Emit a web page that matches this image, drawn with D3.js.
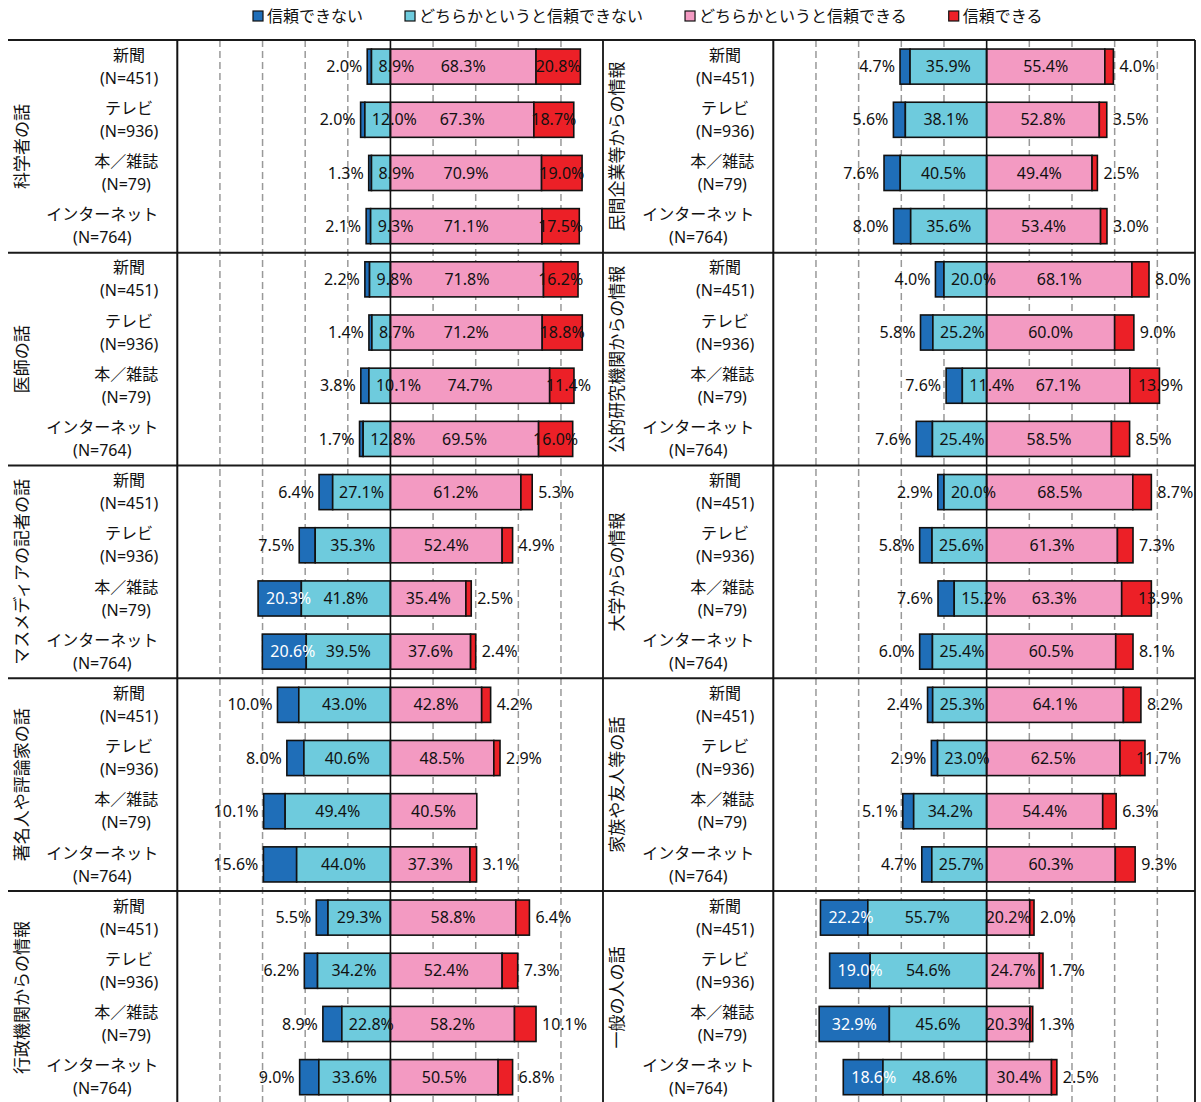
<!DOCTYPE html>
<html><head><meta charset="utf-8">
<script src="https://cdn.jsdelivr.net/npm/d3@7"></script>
<style>
body{margin:0;background:#fff}
svg{display:block}
text{font-family:"Noto Sans","Noto Sans CJK JP",sans-serif;fill:#111}
</style>
</head><body>
<svg id="c" width="1201" height="1102"></svg>
<script>
// ---------- data ----------
const seriesNames = ["信頼できない","どちらかというと信頼できない","どちらかというと信頼できる","信頼できる"];
const seriesColors = ["#1f6eb8","#6ecbdd","#f39ac2","#ec2027"];
const groupNames = ["科学者の話","医師の話","マスメディアの記者の話","著名人や評論家の話","行政機関からの情報",
                    "民間企業等からの情報","公的研究機関からの情報","大学からの情報","家族や友人等の話","一般の人の話"];
const mediaNames = ["新聞","テレビ","本／雑誌","インターネット"];
const sampleSizes = [451,936,79,764];
const notTrust = [
  [2.0,2.0,1.3,2.1],[2.2,1.4,3.8,1.7],[6.4,7.5,20.3,20.6],[10.0,8.0,10.1,15.6],[5.5,6.2,8.9,9.0],
  [4.7,5.6,7.6,8.0],[4.0,5.8,7.6,7.6],[2.9,5.8,7.6,6.0],[2.4,2.9,5.1,4.7],[22.2,19.0,32.9,18.6]];
const ratherNot = [
  [8.9,12.0,8.9,9.3],[9.8,8.7,10.1,12.8],[27.1,35.3,41.8,39.5],[43.0,40.6,49.4,44.0],[29.3,34.2,22.8,33.6],
  [35.9,38.1,40.5,35.6],[20.0,25.2,11.4,25.4],[20.0,25.6,15.2,25.4],[25.3,23.0,34.2,25.7],[55.7,54.6,45.6,48.6]];
const ratherTrust = [
  [68.3,67.3,70.9,71.1],[71.8,71.2,74.7,69.5],[61.2,52.4,35.4,37.6],[42.8,48.5,40.5,37.3],[58.8,52.4,58.2,50.5],
  [55.4,52.8,49.4,53.4],[68.1,60.0,67.1,58.5],[68.5,61.3,63.3,60.5],[64.1,62.5,54.4,60.3],[20.2,24.7,20.3,30.4]];
const trust = [
  [20.8,18.7,19.0,17.5],[16.2,18.8,11.4,16.0],[5.3,4.9,2.5,2.4],[4.2,2.9,0,3.1],[6.4,7.3,10.1,6.8],
  [4.0,3.5,2.5,3.0],[8.0,9.0,13.9,8.5],[8.7,7.3,13.9,8.1],[8.2,11.7,6.3,9.3],[2.0,1.7,1.3,2.5]];
const xTicks = [-100,-80,-60,-40,-20,0,20,40,60,80,100];

// ---------- layout ----------
const W = 1201, H = 1102;
const top0 = 40, rowH = 212.75;
const cols = [
  {left:8,   right:603,  plotL:177.3, plotR:603.6},
  {left:603, right:1195, plotL:773.3, plotR:1200}
];
const fmt = v => v.toFixed(1) + "%";

const svg = d3.select("#c");
const gGrid = svg.append("g");
const gBars = svg.append("g");
const gLines = svg.append("g");
const gText = svg.append("g");

cols.forEach(c => {
  c.x = d3.scaleLinear().domain([-100,100]).range([c.plotL, c.plotR]);
  gGrid.selectAll(null)
    .data(xTicks.filter(t => t !== 0 && Math.abs(t) !== 100))
    .join("line")
    .attr("x1", d => c.x(d)).attr("x2", d => c.x(d))
    .attr("y1", top0).attr("y2", H)
    .attr("stroke", "#999").attr("stroke-width", 1.5).attr("stroke-dasharray", "7,4");
});

function measure(sel){ return sel.node().getComputedTextLength(); }

groupNames.forEach((gname, g) => {
  const ci = Math.floor(g / 5), r = g % 5;
  const c = cols[ci], x = c.x;
  const y0 = top0 + r * rowH;
  const y = d3.scaleBand().domain(mediaNames).range([y0, y0 + rowH]).paddingInner(0.34).paddingOuter(0.17);
  const bw = y.bandwidth();

  // group label (rotated)
  gText.append("text")
    .attr("transform", `translate(${c.left + 14},${y0 + rowH/2}) rotate(-90)`)
    .attr("text-anchor", "middle").attr("dy", "0.35em")
    .style("font-family", "'Noto Sans CJK JP',sans-serif")
    .style("font-size", "17px").text(gname);

  mediaNames.forEach((m, i) => {
    const v = [notTrust[g][i], ratherNot[g][i], ratherTrust[g][i], trust[g][i]];
    const segs = [
      [-(v[0] + v[1]), -v[1]],
      [-v[1], 0],
      [0, v[2]],
      [v[2], v[2] + v[3]]
    ];
    const cy = y(m) + bw / 2;

    // category label
    const right = c.plotL - 19;
    const t1 = gText.append("text").attr("text-anchor","middle").attr("dy","0.35em")
      .attr("y", cy - 11.5).style("font-size","16px")
      .style("font-family","'Noto Sans CJK JP',sans-serif").text(m);
    const t2 = gText.append("text").attr("text-anchor","middle").attr("dy","0.35em")
      .attr("y", cy + 11.5).style("font-size","16px").text(`(N=${sampleSizes[i]})`);
    const bwid = Math.max(measure(t1), measure(t2));
    t1.attr("x", right - bwid/2); t2.attr("x", right - bwid/2);

    segs.forEach((s, k) => {
      if (v[k] <= 0) return;
      gBars.append("rect")
        .attr("x", x(s[0])).attr("y", y(m))
        .attr("width", x(s[1]) - x(s[0])).attr("height", bw)
        .attr("fill", seriesColors[k]).attr("stroke", "#111").attr("stroke-width", 1.6);
    });

    // labels
    const barL = x(segs[0][0]), barR = x(segs[3][1]);
    segs.forEach((s, k) => {
      if (v[k] <= 0) return;
      const sl = x(s[0]), sr = x(s[1]), sw = sr - sl;
      const t = gText.append("text").attr("y", cy).attr("dy","0.35em")
        .style("font-size","16px").text(fmt(v[k]));
      const w = measure(t);
      let xs; // start x
      if (k === 0) {
        if (v[k] >= 18) {
          t.style("fill", "#fff");
          xs = (sw - w < 10) ? sl + 8 : (sl + sr)/2 - w/2;
        } else {
          xs = barL - 5 - w;
        }
      } else if (k === 1) {
        xs = (sw - w < 10) ? sl + 7 : (sl + sr)/2 - w/2;
      } else if (k === 2) {
        xs = (sl + sr)/2 - w/2;
      } else {
        if (v[k] >= 15) xs = (sl + sr)/2 - w/2;
        else if (v[k] >= 11) xs = Math.min(sr - 9, c.right - 12 - w);
        else xs = barR + 6;
      }
      t.attr("x", xs);
    });
  });
});

// lines
cols.forEach(c => {
  d3.range(6).forEach(r => {
    gLines.append("line").attr("x1", c.left).attr("x2", c.right)
      .attr("y1", top0 + r*rowH).attr("y2", top0 + r*rowH)
      .attr("stroke", "#1a1a1a").attr("stroke-width", 2.2);
  });
  gLines.append("line").attr("x1", c.plotL).attr("x2", c.plotL).attr("y1", top0).attr("y2", H)
    .attr("stroke", "#111").attr("stroke-width", 2);
  gLines.append("line").attr("x1", c.x(0)).attr("x2", c.x(0)).attr("y1", top0).attr("y2", H)
    .attr("stroke", "#111").attr("stroke-width", 1.6);
  gLines.append("line").attr("x1", c.right).attr("x2", c.right).attr("y1", top0).attr("y2", H)
    .attr("stroke", "#111").attr("stroke-width", 1.8);
});

// legend
const lg = svg.append("g");
let lx = 253;
seriesNames.forEach((s, k) => {
  lg.append("rect").attr("x", lx).attr("y", 11).attr("width", 10).attr("height", 10)
    .attr("fill", seriesColors[k]).attr("stroke", "#111").attr("stroke-width", 1.2);
  const t = lg.append("text").attr("x", lx + 14).attr("y", 16).attr("dy", "0.35em")
    .style("font-family","'Noto Sans CJK JP',sans-serif").style("font-size","16px").text(s);
  lx += 14 + measure(t) + 42;
});
</script>
</body></html>
